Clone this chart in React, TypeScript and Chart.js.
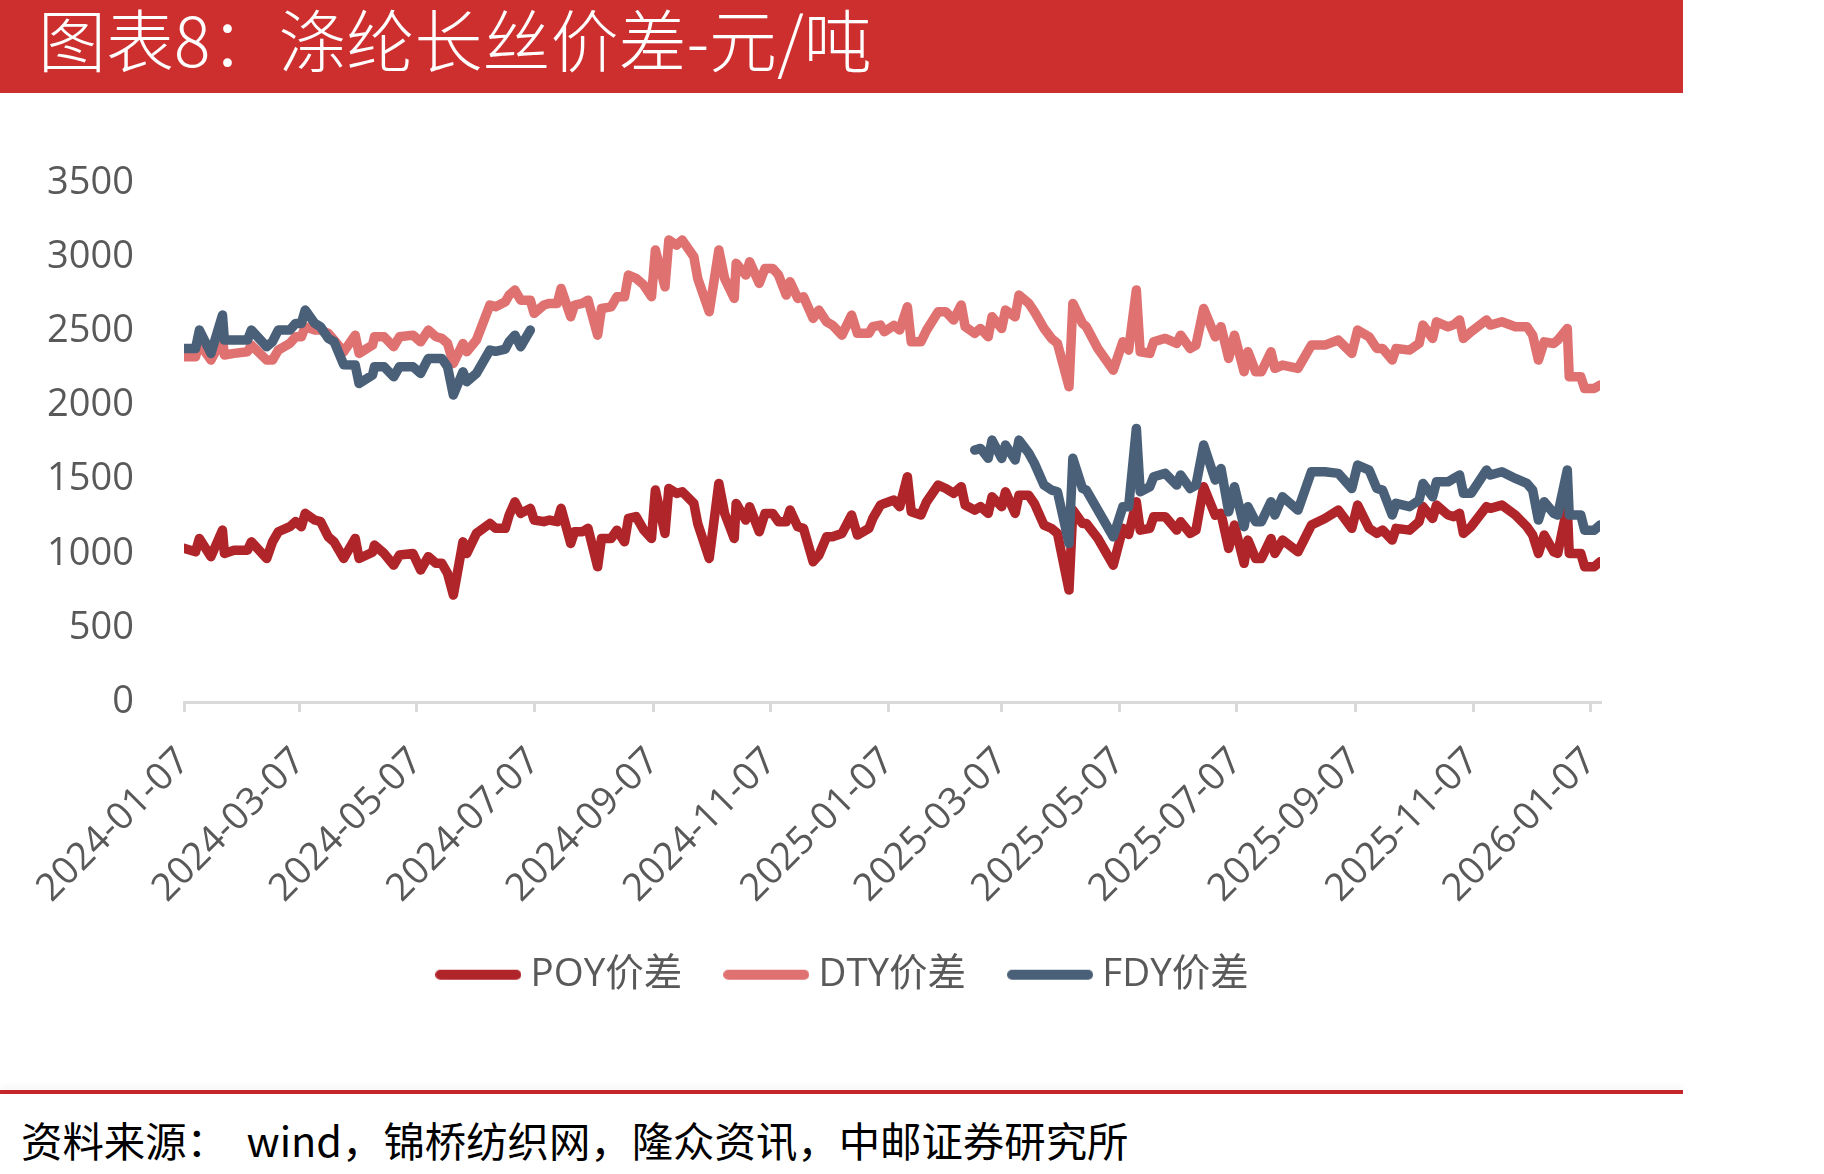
import React, { useEffect, useRef } from 'react';
import { Chart, registerables } from 'chart.js';

Chart.register(...registerables);

const TITLE = '图表8：涤纶长丝价差-元/吨';
const SOURCE = '资料来源：\u00a0\u00a0wind，锦桥纺织网，隆众资讯，中邮证券研究所';

const START_DATE = '2024-01-07';
const xTickLabels = [
  '2024-01-07', '2024-03-07', '2024-05-07', '2024-07-07', '2024-09-07', '2024-11-07',
  '2025-01-07', '2025-03-07', '2025-05-07', '2025-07-07', '2025-09-07', '2025-11-07', '2026-01-07',
];
const xMaxDay = 736;
const yMin = 0;
const yMax = 3500;
const yStep = 500;

const seriesNames = ['POY价差', 'DTY价差', 'FDY价差'];

// observation dates, as days since 2024-01-07
const dayOffsets = [
  0, 6, 8, 14, 20, 21, 26, 33, 35, 43, 46, 49, 55, 58, 61, 63, 68, 71, 75, 78, 83, 89, 91, 98, 99, 104, 109, 112, 119,
  123, 127, 131, 134, 137, 140, 145, 147, 152, 159, 162, 167, 169, 172, 175, 180, 182, 187, 190, 194, 196, 201, 203, 207, 210, 215, 217, 222, 225, 229, 231, 235, 239, 243,
  245, 250, 252, 256, 259, 265, 267, 273, 278, 281, 286, 287, 292, 294, 299, 302, 306, 309, 313, 315, 319, 322, 327, 330, 334, 337, 342, 347, 350, 356, 358, 362, 364,
  369, 372, 376, 378, 383, 386, 392, 396, 400, 404, 406, 411, 414, 418, 420, 425, 427, 432, 434, 439, 442, 447, 451, 454, 460, 462, 467, 469, 475, 483, 488,
  491, 495, 497, 502, 504, 510, 516, 518, 523, 526, 530, 536, 539, 543, 546, 551, 553, 557, 560, 565, 567, 571, 579, 586, 593, 600, 607,
  610, 616, 620, 623, 628, 630, 637, 642, 644, 649, 651, 657, 660, 663, 665, 669, 677, 679, 685, 692, 698, 701, 704, 707, 712, 714, 719, 720, 726, 728, 733, 736,
];

const poy = [
  1036, 1013, 1103, 980, 1159, 1002, 1024, 1024, 1080, 968, 1080, 1148, 1182, 1216, 1182, 1272, 1227, 1216, 1114, 1080, 968, 1103, 968, 1010, 1058, 1002, 923, 991, 1002,
  890, 980, 935, 935, 867, 721, 1080, 1002, 1137, 1204, 1171, 1171, 1260, 1350, 1272, 1306, 1227, 1216, 1227, 1216, 1306, 1069, 1148, 1148, 1171, 912, 1103, 1103, 1159, 1080, 1238, 1250, 1159, 1103,
  1429, 1137, 1440, 1407, 1418, 1339, 1204, 968, 1474, 1272, 1103, 1339, 1227, 1317, 1148, 1272, 1272, 1216, 1216, 1294, 1182, 1171, 946, 991, 1114, 1114, 1137, 1261, 1126, 1171, 1238, 1328, 1339,
  1362, 1317, 1519, 1283, 1261, 1351, 1463, 1440, 1407, 1452, 1328, 1294, 1317, 1272, 1384, 1317, 1418, 1272, 1395, 1395, 1339, 1193, 1170, 1137, 755, 1294, 1204, 1204, 1103, 923, 1171,
  1130, 1350, 1159, 1171, 1250, 1250, 1159, 1216, 1137, 1159, 1452, 1260, 1272, 1036, 1193, 935, 1092, 968, 968, 1103, 1002, 1092, 1013, 1193, 1238, 1294, 1171,
  1328, 1171, 1137, 1159, 1092, 1171, 1159, 1216, 1317, 1238, 1328, 1261, 1250, 1272, 1137, 1182, 1317, 1306, 1328, 1261, 1182, 1126, 1002, 1126, 1013, 1002, 1317, 1002, 1002, 912, 912, 946,
];

const dty = [
  2328, 2328, 2418, 2306, 2450, 2340, 2351, 2362, 2407, 2306, 2306, 2373, 2418, 2463, 2463, 2530, 2508, 2508, 2486, 2441, 2362, 2474, 2351, 2407, 2463, 2463, 2396, 2463, 2474,
  2429, 2508, 2463, 2452, 2418, 2283, 2418, 2362, 2441, 2677, 2666, 2699, 2744, 2778, 2710, 2710, 2621, 2677, 2688, 2688, 2789, 2598, 2677, 2688, 2710, 2474, 2654, 2665, 2733, 2733, 2879, 2857, 2812, 2733,
  3048, 2800, 3115, 3081, 3115, 3003, 2857, 2632, 3048, 2857, 2722, 2958, 2879, 2969, 2823, 2924, 2924, 2880, 2744, 2834, 2722, 2733, 2587, 2643, 2564, 2542, 2474, 2609, 2486, 2486, 2531, 2542, 2497,
  2540, 2508, 2666, 2429, 2429, 2508, 2632, 2632, 2576, 2677, 2531, 2486, 2519, 2463, 2598, 2519, 2643, 2598, 2744, 2690, 2632, 2519, 2450, 2418, 2126, 2688, 2553, 2531, 2384, 2238, 2429,
  2373, 2778, 2362, 2351, 2429, 2452, 2418, 2474, 2384, 2407, 2654, 2463, 2531, 2317, 2474, 2227, 2362, 2227, 2227, 2362, 2250, 2272, 2250, 2407, 2407, 2441, 2351,
  2508, 2463, 2384, 2384, 2306, 2384, 2373, 2418, 2542, 2452, 2564, 2530, 2545, 2576, 2452, 2497, 2576, 2542, 2564, 2531, 2531, 2474, 2306, 2429, 2418, 2440, 2519, 2193, 2193, 2115, 2115, 2137,
];

const N = null;
const fdy = [
  2384, 2384, 2508, 2351, 2609, 2441, 2441, 2441, 2508, 2396, 2430, 2508, 2508, 2553, 2553, 2643, 2553, 2530, 2452, 2430, 2275, 2272, 2148, 2205, 2261, 2261, 2193, 2261, 2261,
  2216, 2317, 2317, 2317, 2260, 2070, 2227, 2160, 2216, 2373, 2365, 2380, 2430, 2474, 2396, 2508, N, N, N, N, N, N, N, N, N, N, N, N, N, N, N, N, N, N,
  N, N, N, N, N, N, N, N, N, N, N, N, N, N, N, N, N, N, N, N, N, N, N, N, N, N, N, N, N, N, N, N, N,
  N, N, N, N, N, N, N, N, N, N, N, 1699, 1710, 1643, 1766, 1643, 1733, 1632, 1766, 1680, 1610, 1463, 1429, 1418, 1069, 1643, 1440, 1429, 1294, 1114, 1317,
  1317, 1845, 1418, 1452, 1519, 1542, 1463, 1531, 1440, 1463, 1733, 1497, 1575, 1283, 1452, 1182, 1317, 1216, 1216, 1351, 1261, 1384, 1294, 1553, 1553, 1542, 1440,
  1598, 1564, 1440, 1429, 1261, 1339, 1317, 1362, 1474, 1384, 1485, 1485, 1508, 1531, 1407, 1407, 1564, 1531, 1553, 1508, 1474, 1429, 1227, 1351, 1272, 1261, 1564, 1261, 1261, 1159, 1159, 1193,
];

const COLORS = ['#B0252A', '#E07171', '#4A6078'];
const TEXT_GRAY = '#595959';
const FONT_FAMILY = "'Open Sans', 'Noto Sans CJK SC', sans-serif";
const CJK_FAMILY = "'Noto Sans CJK SC', 'Open Sans', sans-serif";

const legendShift = {
  id: 'legendShift',
  afterLayout(chart: any) {
    const lg = chart.legend;
    if (lg) {
      lg.left += 47;
      lg.right += 47;
    }
  },
};

function makeSwatch(color: string) {
  const c = document.createElement('canvas');
  c.width = 86;
  c.height = 12;
  const ctx = c.getContext('2d');
  if (ctx) {
    ctx.strokeStyle = color;
    ctx.lineWidth = 10;
    ctx.lineCap = 'round';
    ctx.beginPath();
    ctx.moveTo(5, 6);
    ctx.lineTo(81, 6);
    ctx.stroke();
  }
  return c;
}

export default function App() {
  const canvasRef = useRef<HTMLCanvasElement | null>(null);

  useEffect(() => {
    if (!canvasRef.current) return;
    const toDay = (s: string) => {
      const [y, m, d] = s.split('-').map(Number);
      const [y0, m0, d0] = START_DATE.split('-').map(Number);
      return Math.round((Date.UTC(y, m - 1, d) - Date.UTC(y0, m0 - 1, d0)) / 86400000);
    };
    const tickDays = xTickLabels.map(toDay);
    const mk = (vals: (number | null)[]) => dayOffsets.map((d, i) => ({ x: d, y: vals[i] }));
    const seriesValues = [poy, dty, fdy];
    const orders = [3, 2, 1];
    const swatches = COLORS.map(makeSwatch);

    const chart = new Chart(canvasRef.current, {
      type: 'line',
      data: {
        datasets: seriesNames.map((name, i) => ({
          label: name,
          data: mk(seriesValues[i]),
          borderColor: COLORS[i],
          backgroundColor: COLORS[i],
          borderWidth: 9.5,
          borderCapStyle: 'round',
          borderJoinStyle: 'round',
          tension: 0,
          pointRadius: 0,
          pointHoverRadius: 0,
          spanGaps: false,
          order: orders[i],
        })) as any,
      },
      options: {
        responsive: false,
        animation: false,
        devicePixelRatio: 1,
        events: [],
        layout: { padding: { top: 183, left: 0, right: 224, bottom: 0 } },
        plugins: {
          tooltip: { enabled: false },
          legend: {
            position: 'bottom',
            labels: {
              usePointStyle: true,
              pointStyleWidth: 66,
              boxWidth: 66,
              boxHeight: 12,
              padding: 51,
              color: TEXT_GRAY,
              font: { family: FONT_FAMILY, size: 38.5 },
              generateLabels: (c: any) =>
                c.data.datasets.map((ds: any, i: number) => ({
                  text: ds.label,
                  fillStyle: ds.borderColor,
                  strokeStyle: ds.borderColor,
                  lineWidth: 0,
                  pointStyle: swatches[i],
                  hidden: false,
                  datasetIndex: i,
                  fontColor: TEXT_GRAY,
                })),
            },
          },
        },
        scales: {
          x: {
            type: 'linear',
            min: 0,
            max: xMaxDay,
            afterBuildTicks: (s: any) => {
              s.ticks = tickDays.map((v) => ({ value: v }));
            },
            afterFit: (s: any) => {
              s.height = 202.5;
            },
            ticks: {
              autoSkip: false,
              minRotation: 45,
              maxRotation: 45,
              padding: 27,
              color: TEXT_GRAY,
              font: { family: FONT_FAMILY, size: 38 },
              callback: (_v: any, i: number) => xTickLabels[i],
            },
            grid: {
              display: true,
              drawOnChartArea: false,
              drawTicks: true,
              tickLength: 10,
              color: '#D9D9D9',
              lineWidth: 3,
            },
            border: { display: true, color: '#D9D9D9', width: 3 },
          },
          y: {
            min: yMin,
            max: yMax,
            afterFit: (s: any) => {
              s.width = 184;
            },
            ticks: {
              stepSize: yStep,
              padding: 50,
              color: TEXT_GRAY,
              font: { family: FONT_FAMILY, size: 38 },
              callback: (v: any) => String(v),
            },
            grid: { display: false, drawTicks: false },
            border: { display: false },
          },
        },
      } as any,
      plugins: [legendShift],
    });
    return () => chart.destroy();
  }, []);

  return (
    <div
      style={{
        position: 'absolute',
        left: 0,
        top: 0,
        width: 1824,
        height: 1174,
        background: '#ffffff',
        overflow: 'hidden',
      }}
    >
      <canvas
        ref={canvasRef}
        width={1824}
        height={1004}
        style={{ position: 'absolute', left: 0, top: 0, width: 1824, height: 1004 }}
      />
      <div
        style={{
          position: 'absolute',
          left: 0,
          top: 0,
          width: 1683,
          height: 93,
          background: '#CD2E2E',
        }}
      >
        <div
          style={{
            position: 'absolute',
            left: 38,
            top: 0,
            height: 76,
            lineHeight: '76px',
            fontSize: 68,
            fontWeight: 300,
            color: '#ffffff',
            fontFamily: CJK_FAMILY,
            whiteSpace: 'nowrap',
          }}
        >
          {TITLE}
        </div>
      </div>
      <div
        style={{
          position: 'absolute',
          left: 0,
          top: 1090,
          width: 1683,
          height: 4,
          background: '#C4262B',
          boxShadow: '0 -3px 6px rgba(0,0,0,0.06)',
        }}
      />
      <div
        style={{
          position: 'absolute',
          left: 21,
          top: 1113,
          height: 52,
          lineHeight: '52px',
          fontSize: 41.4,
          color: '#000000',
          fontFamily: CJK_FAMILY,
          whiteSpace: 'nowrap',
        }}
      >
        {SOURCE}
      </div>
    </div>
  );
}
